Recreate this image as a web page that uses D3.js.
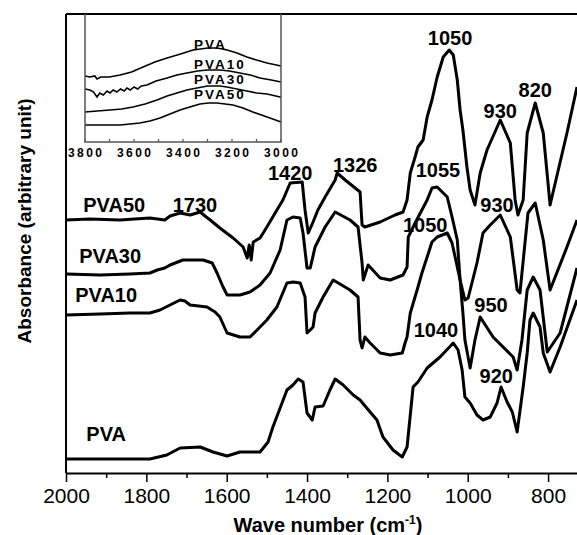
<!DOCTYPE html>
<html>
<head>
<meta charset="utf-8">
<script src="https://cdn.jsdelivr.net/npm/d3@7"></script>
<style>
  body { margin: 0; background: #fff; }
  svg { display: block; font-family: "Liberation Sans", Arial, sans-serif; }
</style>
</head>
<body>
<div id="chart"></div>
<script>
// FTIR spectra, 2000-728 cm-1 (absorbance in arbitrary units, curves offset)
const pva50Wn = [2000,1940,1866,1791,1754,1741,1716,1691,1666,1654,1641,1617,1584,1559,1549,1544,1539,1534,1517,1500,1475,1460,1442,1412,1405,1397,1385,1373,1355,1330,1325,1305,1268,1263,1256,1218,1181,1161,1151,1143,1131,1124,1111,1101,1089,1076,1061,1046,1036,1026,1019,1012,1002,994,982,969,952,919,894,882,875,862,852,832,812,795,753,728]
const pva50Abs = [2.53,2.54,2.53,2.55,2.53,2.57,2.60,2.58,2.61,2.57,2.53,2.45,2.35,2.26,2.15,2.28,2.13,2.31,2.35,2.46,2.63,2.73,2.90,2.91,2.63,2.40,2.51,2.63,2.76,2.93,3.00,2.93,2.81,2.48,2.46,2.51,2.58,2.61,2.73,3.00,3.16,3.26,3.33,3.56,3.73,3.96,4.16,4.23,4.18,3.93,3.63,3.43,3.06,2.83,2.68,3.00,3.23,3.53,3.30,2.73,2.58,2.73,3.40,3.70,3.40,2.68,3.40,3.86]

const pva30Wn = [2000,1915,1841,1791,1773,1754,1741,1709,1659,1636,1624,1609,1599,1567,1542,1517,1492,1467,1450,1435,1417,1410,1400,1392,1380,1355,1330,1293,1273,1263,1260,1248,1218,1193,1161,1151,1148,1131,1101,1089,1076,1051,1039,1026,1019,1007,999,977,962,944,919,894,877,870,850,832,812,795,753,728]
const pva30Abs = [1.99,1.98,1.99,2.00,2.03,2.05,2.08,2.13,2.13,2.10,2.00,1.86,1.78,1.78,1.81,1.88,2.00,2.23,2.53,2.56,2.55,2.40,2.05,2.05,2.26,2.46,2.61,2.53,2.46,2.10,1.93,2.08,1.95,1.93,1.98,2.06,2.36,2.50,2.73,2.85,2.86,2.76,2.56,2.33,1.93,1.73,1.75,2.10,2.40,2.48,2.58,2.36,1.83,1.80,2.60,2.70,2.33,1.83,2.26,2.53]

const pva10Wn = [2000,1915,1841,1791,1766,1741,1716,1704,1691,1649,1629,1617,1599,1567,1542,1517,1500,1475,1450,1435,1417,1405,1400,1392,1385,1380,1360,1335,1293,1273,1268,1263,1256,1243,1218,1193,1163,1156,1151,1143,1126,1114,1101,1089,1076,1051,1039,1026,1019,1012,1007,994,982,969,937,887,877,865,852,837,820,802,770,728]
const pva10Abs = [1.58,1.59,1.60,1.60,1.63,1.68,1.73,1.72,1.68,1.66,1.61,1.56,1.40,1.36,1.36,1.46,1.53,1.66,1.90,1.91,1.90,1.76,1.40,1.43,1.46,1.60,1.76,1.93,1.83,1.76,1.33,1.25,1.36,1.30,1.20,1.18,1.20,1.30,1.36,1.60,1.83,2.00,2.16,2.31,2.36,2.40,2.30,2.06,1.93,1.60,1.33,1.05,1.33,1.56,1.36,1.16,1.03,1.33,1.83,1.96,1.83,1.21,1.40,2.05]

const pvaWn = [2000,1915,1791,1749,1716,1666,1634,1599,1567,1517,1497,1485,1467,1450,1435,1422,1410,1400,1387,1380,1360,1343,1330,1310,1285,1268,1243,1226,1211,1186,1163,1151,1136,1124,1101,1069,1036,1024,1014,1007,994,977,962,944,927,917,902,889,877,862,852,845,837,820,812,795,770,728]
const pvaAbs = [0.14,0.14,0.14,0.18,0.25,0.26,0.21,0.17,0.21,0.21,0.31,0.46,0.65,0.83,0.88,0.94,0.91,0.60,0.53,0.66,0.67,0.83,0.94,0.88,0.78,0.73,0.61,0.53,0.36,0.23,0.16,0.26,0.86,0.91,1.05,1.16,1.30,1.23,1.03,0.76,0.70,0.58,0.53,0.56,0.70,0.86,0.71,0.61,0.41,0.86,1.20,1.53,1.60,1.46,1.20,1.01,1.26,1.73]

const seriesNames = ["PVA50", "PVA30", "PVA10", "PVA"]

// peak labels on the main plot
const peakText = ["1050","820","930","1326","1420","1055","1730","930","1050","950","1040","920"]
const peakWn   = [1044, 832, 919, 1280, 1442, 1074, 1679, 927, 1106, 942, 1079, 929]
const peakAbs  = [4.28, 3.76, 3.55, 3.01, 2.93, 2.96, 2.61, 2.61, 2.41, 1.61, 1.36, 0.90]
const nameWn   = [1880, 1890, 1900, 1900]
const nameAbs  = [2.61, 2.10, 1.71, 0.32]

const xMajor = [2000, 1800, 1600, 1400, 1200, 1000, 800]
const xMinor = [1900, 1700, 1500, 1300, 1100, 900, 700]

// inset: OH stretching region 3800-3000 cm-1
const insetPvaWn = [3800,3780,3760,3751,3735,3700,3657,3610,3563,3515,3465,3410,3359,3298,3260,3220,3180,3139,3100,3057,3000]
const insetPvaAbs = [0.66,0.65,0.66,0.63,0.65,0.65,0.67,0.70,0.75,0.80,0.84,0.88,0.92,0.94,0.94,0.92,0.89,0.85,0.82,0.79,0.76]
const insetPva10Wn = [3800,3780,3765,3751,3740,3725,3710,3698,3685,3670,3655,3640,3629,3615,3600,3585,3570,3547,3510,3465,3425,3384,3340,3302,3249,3210,3168,3125,3086,3040,3000]
const insetPva10Abs = [0.53,0.52,0.50,0.45,0.49,0.47,0.51,0.49,0.52,0.50,0.53,0.51,0.54,0.52,0.55,0.53,0.56,0.57,0.61,0.64,0.67,0.69,0.71,0.72,0.72,0.71,0.69,0.67,0.64,0.62,0.60]
const insetPva30Wn = [3800,3750,3698,3650,3604,3555,3506,3465,3425,3384,3343,3300,3278,3250,3221,3180,3139,3100,3057,3004,3000]
const insetPva30Abs = [0.30,0.31,0.32,0.33,0.35,0.38,0.42,0.46,0.49,0.52,0.54,0.56,0.56,0.56,0.55,0.53,0.51,0.49,0.48,0.45,0.45]
const insetPva50Wn = [3800,3750,3700,3657,3616,3576,3535,3494,3453,3412,3372,3331,3296,3261,3228,3196,3155,3115,3080,3045,3000]
const insetPva50Abs = [0.17,0.17,0.17,0.17,0.18,0.19,0.21,0.24,0.28,0.32,0.35,0.38,0.39,0.39,0.38,0.37,0.34,0.30,0.27,0.24,0.20]
const insetNames = ["PVA", "PVA10", "PVA30", "PVA50"]
const insetNameWn = [3355, 3355, 3355, 3355]
const insetNameAbs = [0.93, 0.73, 0.58, 0.43]
const insetTicks = [3800, 3600, 3400, 3200, 3000]
const insetMinor = [3700, 3500, 3300, 3100]

const W = 577, H = 535
const margin = { top: 14, right: 0, bottom: 62, left: 66 }

const svg = d3.select("#chart")
  .append("svg")
  .attr("width", W)
  .attr("height", H)

const x = d3.scaleLinear().domain([2000, 728]).range([margin.left, W - margin.right])
const y = d3.scaleLinear().domain([0, 4.59]).range([H - margin.bottom, margin.top])

const line = d3.line()
  .x(d => x(d[0]))
  .y(d => y(d[1]))

const spectra = [
  d3.zip(pva50Wn, pva50Abs),
  d3.zip(pva30Wn, pva30Abs),
  d3.zip(pva10Wn, pva10Abs),
  d3.zip(pvaWn, pvaAbs)
]

svg.append("g")
  .selectAll("path")
  .data(spectra)
  .join("path")
  .attr("d", line)
  .attr("fill", "none")
  .attr("stroke", "#000")
  .attr("stroke-width", 3)
  .attr("stroke-linejoin", "round")

// frame: top and left
svg.append("line")
  .attr("x1", x(2000)).attr("x2", W)
  .attr("y1", y.range()[1]).attr("y2", y.range()[1])
  .attr("stroke", "#000").attr("stroke-width", 2)
svg.append("line")
  .attr("x1", x(2000)).attr("x2", x(2000))
  .attr("y1", y.range()[1]).attr("y2", y.range()[0])
  .attr("stroke", "#000").attr("stroke-width", 2)

// x axis
const gx = svg.append("g")
  .attr("transform", `translate(0,${y.range()[0]})`)
  .call(d3.axisBottom(x).tickValues(xMajor).tickSize(9).tickSizeOuter(0).tickPadding(6).tickFormat(d3.format("d")))
gx.select(".domain").attr("stroke-width", 2)
gx.selectAll(".tick line").attr("stroke-width", 1.5)
gx.selectAll(".tick text")
  .attr("font-size", 21)
  .attr("font-family", "Liberation Sans, Arial, sans-serif")
  .attr("fill", "#000")

const gxm = svg.append("g")
  .attr("transform", `translate(0,${y.range()[0]})`)
  .call(d3.axisBottom(x).tickValues(xMinor).tickSize(5).tickSizeOuter(0).tickFormat(""))
gxm.select(".domain").remove()
gxm.selectAll(".tick line").attr("stroke-width", 1.5)

// axis titles
const xt = svg.append("text")
  .attr("x", 328)
  .attr("y", 532)
  .attr("text-anchor", "middle")
  .attr("font-weight", "bold")
  .attr("font-size", 20)
xt.append("tspan").text("Wave number (cm")
xt.append("tspan").attr("font-size", 12).attr("dy", -8).text("-1")
xt.append("tspan").attr("dy", 8).text(")")

svg.append("text")
  .attr("transform", "translate(31,221) rotate(-90)")
  .attr("text-anchor", "middle")
  .attr("font-weight", "bold")
  .attr("font-size", 19)
  .text("Absorbance (arbitrary unit)")

// peak and series labels
svg.append("g")
  .selectAll("text")
  .data(peakText)
  .join("text")
  .attr("x", (d, i) => x(peakWn[i]))
  .attr("y", (d, i) => y(peakAbs[i]))
  .attr("text-anchor", "middle")
  .attr("font-weight", "bold")
  .attr("font-size", 20)
  .text(d => d)

svg.append("g")
  .selectAll("text")
  .data(seriesNames)
  .join("text")
  .attr("x", (d, i) => x(nameWn[i]))
  .attr("y", (d, i) => y(nameAbs[i]))
  .attr("text-anchor", "middle")
  .attr("font-weight", "bold")
  .attr("font-size", 20)
  .text(d => d)

// inset
const xi = d3.scaleLinear().domain([3800, 3000]).range([85, 281])
const yi = d3.scaleLinear().domain([0, 1.28]).range([142, 14])

const lineInset = d3.line()
  .x(d => xi(d[0]))
  .y(d => yi(d[1]))

const insetSpectra = [
  d3.zip(insetPvaWn, insetPvaAbs),
  d3.zip(insetPva10Wn, insetPva10Abs),
  d3.zip(insetPva30Wn, insetPva30Abs),
  d3.zip(insetPva50Wn, insetPva50Abs)
]

const inset = svg.append("g")

inset.selectAll("path.spec")
  .data(insetSpectra)
  .join("path")
  .attr("class", "spec")
  .attr("d", lineInset)
  .attr("fill", "none")
  .attr("stroke", "#000")
  .attr("stroke-width", 1.6)

inset.append("path")
  .attr("d", `M${xi(3800)},${yi.range()[1]}V${yi.range()[0]}H${xi(3000)}V${yi.range()[1]}`)
  .attr("fill", "none")
  .attr("stroke", "#555")
  .attr("stroke-width", 1.5)

inset.selectAll("line.tk")
  .data(insetTicks.concat(insetMinor))
  .join("line")
  .attr("class", "tk")
  .attr("x1", d => xi(d)).attr("x2", d => xi(d))
  .attr("y1", yi.range()[0]).attr("y2", yi.range()[0] - 3)
  .attr("stroke", "#555")
  .attr("stroke-width", 1.2)

inset.selectAll("text.tl")
  .data(insetTicks)
  .join("text")
  .attr("class", "tl")
  .attr("x", d => xi(d) + 1.2)
  .attr("y", 157)
  .attr("text-anchor", "middle")
  .attr("font-weight", "bold")
  .attr("font-size", 12)
  .attr("letter-spacing", 2.4)
  .text(d => d)

inset.selectAll("text.nm")
  .data(insetNames)
  .join("text")
  .attr("class", "nm")
  .attr("x", (d, i) => xi(insetNameWn[i]))
  .attr("y", (d, i) => yi(insetNameAbs[i]))
  .attr("font-weight", "bold")
  .attr("font-size", 13.5)
  .attr("letter-spacing", 2)
  .text(d => d)
</script>
</body>
</html>
